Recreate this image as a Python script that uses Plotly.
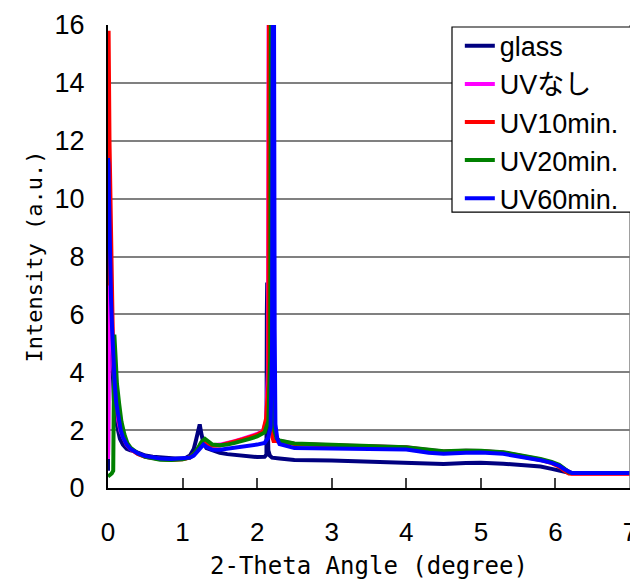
import plotly.graph_objects as go

# ---- data ----
series_names = ["glass", "UVなし", "UV10min.", "UV20min.", "UV60min."]
series_colors = ["#000080", "#FF00FF", "#FF0000", "#008000", "#0000FF"]

glass_x = [0.0, 0.01, 0.02, 0.04, 0.06, 0.08, 0.1, 0.13, 0.16, 0.2, 0.25, 0.3, 0.35, 0.4, 0.5, 0.6,
           0.7, 0.8, 0.9, 1.0, 1.05, 1.1, 1.15, 1.18, 1.21, 1.23, 1.25, 1.28, 1.32, 1.4, 1.5, 1.6,
           1.8, 2.0, 2.1, 2.125, 2.13, 2.135, 2.14, 2.15, 2.17, 2.2, 2.3, 2.5, 3.0, 3.5, 4.0, 4.3,
           4.5, 4.8, 5.0, 5.3, 5.6, 5.8, 5.95, 6.05, 6.12, 6.18, 6.5, 7.0]
glass_y = [0.6, 10.5, 8.0, 5.5, 4.0, 3.0, 2.4, 2.0, 1.7, 1.5, 1.35, 1.3, 1.28, 1.22, 1.12, 1.08,
           1.05, 1.03, 1.02, 1.02, 1.05, 1.12, 1.35, 1.65, 2.05, 2.2, 1.9, 1.55, 1.38, 1.3, 1.22, 1.17,
           1.12, 1.07, 1.08, 1.15, 6.0, 7.1, 2.5, 1.3, 1.12, 1.05, 1.02, 0.97, 0.95, 0.92, 0.88, 0.84,
           0.83, 0.86, 0.87, 0.84, 0.8, 0.74, 0.66, 0.6, 0.56, 0.53, 0.52, 0.52]

uvnashi_x = [0.0, 0.005, 0.015, 0.025, 0.035, 0.05, 0.07, 0.09, 0.11, 0.14, 0.17, 0.2, 0.25, 0.3,
             0.4, 0.5, 0.6, 0.7, 0.8, 0.9, 1.0, 1.1, 1.15, 1.2, 1.25, 1.28, 1.32, 1.4, 1.5, 1.6, 1.7,
             1.8, 1.9, 2.0, 2.08, 2.12, 2.145, 2.155, 2.17, 2.18, 2.2, 2.25, 2.3, 2.5, 3.0, 3.5, 4.0,
             4.3, 4.5, 4.8, 5.0, 5.3, 5.6, 5.8, 5.95, 6.05, 6.12, 6.18, 6.22, 6.5, 7.0]
uvnashi_y = [1.0, 1.6, 6.5, 9.0, 7.5, 5.8, 4.3, 3.4, 2.8, 2.3, 1.95, 1.75, 1.5, 1.35,
             1.18, 1.08, 1.03, 1.0, 0.99, 0.99, 1.0, 1.06, 1.15, 1.3, 1.5, 1.62, 1.55, 1.48, 1.5, 1.55, 1.62,
             1.7, 1.78, 1.87, 1.98, 2.3, 4.0, 18.0, 18.0, 3.0, 1.9, 1.72, 1.63, 1.53, 1.48, 1.45, 1.41,
             1.31, 1.26, 1.29, 1.28, 1.23, 1.09, 0.99, 0.88, 0.78, 0.65, 0.54, 0.5, 0.5, 0.5]

uv10_x = [0.0, 0.008, 0.02, 0.035, 0.05, 0.065, 0.08, 0.1, 0.13, 0.16, 0.2, 0.25, 0.3, 0.4, 0.5,
          0.6, 0.7, 0.85, 1.0, 1.1, 1.15, 1.2, 1.25, 1.28, 1.32, 1.4, 1.5, 1.6, 1.7, 1.8, 1.9, 2.0,
          2.08, 2.12, 2.15, 2.16, 2.18, 2.19, 2.205, 2.22, 2.25, 2.3, 2.5, 3.0, 3.5, 4.0, 4.3, 4.5,
          4.8, 5.0, 5.3, 5.6, 5.8, 5.95, 6.05, 6.12, 6.18, 6.22, 6.5, 7.0]
uv10_y = [7.0, 15.8, 12.0, 9.0, 6.8, 5.2, 4.2, 3.3, 2.6, 2.15, 1.8, 1.5, 1.35, 1.18, 1.08,
          1.03, 1.0, 0.98, 0.99, 1.06, 1.16, 1.3, 1.52, 1.6, 1.55, 1.46, 1.47, 1.53, 1.6, 1.68, 1.76, 1.84,
          1.96, 2.4, 3.6, 18.0, 18.0, 3.0, 1.75, 1.62, 1.62, 1.6, 1.52, 1.47, 1.44, 1.4, 1.3, 1.25,
          1.28, 1.27, 1.22, 1.08, 0.97, 0.86, 0.74, 0.6, 0.5, 0.49, 0.49, 0.49]

uv20_x = [0.0, 0.02, 0.05, 0.07, 0.085, 0.1, 0.12, 0.15, 0.18, 0.22, 0.26, 0.3, 0.4, 0.5, 0.6,
          0.7, 0.85, 1.0, 1.1, 1.15, 1.2, 1.25, 1.3, 1.35, 1.4, 1.5, 1.6, 1.7, 1.8, 1.9, 2.0, 2.1,
          2.15, 2.175, 2.185, 2.2, 2.21, 2.23, 2.26, 2.3, 2.5, 3.0, 3.5, 4.0, 4.3, 4.5, 4.8, 5.0,
          5.3, 5.6, 5.8, 5.95, 6.05, 6.12, 6.18, 6.22, 6.5, 7.0]
uv20_y = [0.4, 0.45, 0.5, 0.6, 5.3, 4.6, 3.6, 2.9, 2.3, 1.85, 1.55, 1.4, 1.2, 1.08, 1.02,
          0.98, 0.97, 0.99, 1.06, 1.17, 1.35, 1.58, 1.7, 1.58, 1.5, 1.48, 1.5, 1.56, 1.62, 1.7, 1.78, 1.92,
          2.3, 4.5, 18.0, 18.0, 3.5, 2.0, 1.72, 1.64, 1.54, 1.48, 1.45, 1.41, 1.32, 1.27, 1.3, 1.29,
          1.24, 1.1, 1.0, 0.9, 0.8, 0.67, 0.55, 0.52, 0.52, 0.52]

uv60_x = [0.0, 0.006, 0.012, 0.02, 0.03, 0.04, 0.055, 0.07, 0.09, 0.11, 0.14, 0.17, 0.2, 0.25,
          0.3, 0.4, 0.5, 0.6, 0.7, 0.85, 1.0, 1.1, 1.15, 1.2, 1.25, 1.28, 1.32, 1.4, 1.5, 1.6, 1.7,
          1.8, 1.9, 2.0, 2.1, 2.15, 2.18, 2.2, 2.21, 2.225, 2.235, 2.245, 2.27, 2.3, 2.5, 3.0, 3.5,
          4.0, 4.3, 4.5, 4.8, 5.0, 5.3, 5.6, 5.8, 5.95, 6.05, 6.12, 6.18, 6.22, 6.5, 7.0]
uv60_y = [11.4, 11.2, 10.2, 8.8, 7.6, 6.6, 5.5, 4.5, 3.6, 2.95, 2.35, 2.0, 1.75, 1.5,
          1.35, 1.2, 1.1, 1.05, 1.02, 1.0, 1.02, 1.05, 1.12, 1.25, 1.42, 1.5, 1.42, 1.32, 1.32, 1.35, 1.38,
          1.42, 1.46, 1.5, 1.56, 1.75, 2.1, 5.0, 18.0, 18.0, 5.5, 2.2, 1.7, 1.52, 1.38, 1.36, 1.35,
          1.33, 1.22, 1.18, 1.22, 1.23, 1.18, 1.06, 0.96, 0.87, 0.77, 0.65, 0.55, 0.52, 0.52, 0.52]

x_tick_vals = [0, 1, 2, 3, 4, 5, 6, 7]
y_tick_vals = [0, 2, 4, 6, 8, 10, 12, 14, 16]
x_title = "2-Theta Angle (degree)"
y_title = "Intensity (a.u.)"

all_x = [glass_x, uvnashi_x, uv10_x, uv20_x, uv60_x]
all_y = [glass_y, uvnashi_y, uv10_y, uv20_y, uv60_y]

FONT = "Liberation Sans, Noto Sans CJK JP, sans-serif"
MONO = "DejaVu Sans Mono, monospace"

fig = go.Figure()
for name, color, xs, ys in zip(series_names, series_colors, all_x, all_y):
    fig.add_trace(go.Scatter(x=xs, y=ys, mode="lines", name=name,
                             line=dict(color=color, width=4)))

# the page body adds an 8 px offset; the figure is sized to fit the 638x579 window
fig.update_layout(
    width=630, height=571,
    margin=dict(l=100, r=8, t=17, b=91, autoexpand=False),
    paper_bgcolor="white", plot_bgcolor="white",
    font=dict(family=FONT, color="black", size=24),
    legend=dict(x=0.674, y=1.007, xanchor="left", yanchor="top",
                bgcolor="rgba(0,0,0,0)", borderwidth=0,
                font=dict(family=FONT, size=27, color="black")),
    xaxis=dict(range=[0, 7], tickvals=x_tick_vals, ticks="inside", ticklen=10,
               tickcolor="#404040", tickwidth=1.5, showgrid=False, zeroline=False,
               showline=True, linecolor="black", linewidth=2, automargin=False,
               tickfont=dict(family=FONT, size=26), ticklabelstandoff=20),
    yaxis=dict(range=[0, 16], tickvals=y_tick_vals, ticks="", showgrid=True,
               gridcolor="#808080", gridwidth=1.5, zeroline=False,
               showline=True, linecolor="black", linewidth=2, automargin=False,
               tickfont=dict(family=FONT, size=27), ticklabelstandoff=16,
               title=dict(text=y_title, font=dict(family=MONO, size=22), standoff=6)),
)
# x-axis title placed as text below the tick labels
fig.add_annotation(text=x_title, xref="paper", yref="paper", x=0.5, y=-0.168,
                   xanchor="center", yanchor="middle", showarrow=False,
                   font=dict(family=MONO, size=24, color="black"))
# right border of the plot area
fig.add_shape(type="line", xref="paper", yref="paper", x0=1, x1=1, y0=0, y1=1,
              line=dict(color="#808080", width=1.5))
# legend frame
fig.add_shape(type="rect", xref="paper", yref="paper", x0=0.659, x1=1.004, y0=0.596, y1=0.9957,
              line=dict(color="black", width=1.2), fillcolor="white", layer="above")

fig.write_html("out.html")
